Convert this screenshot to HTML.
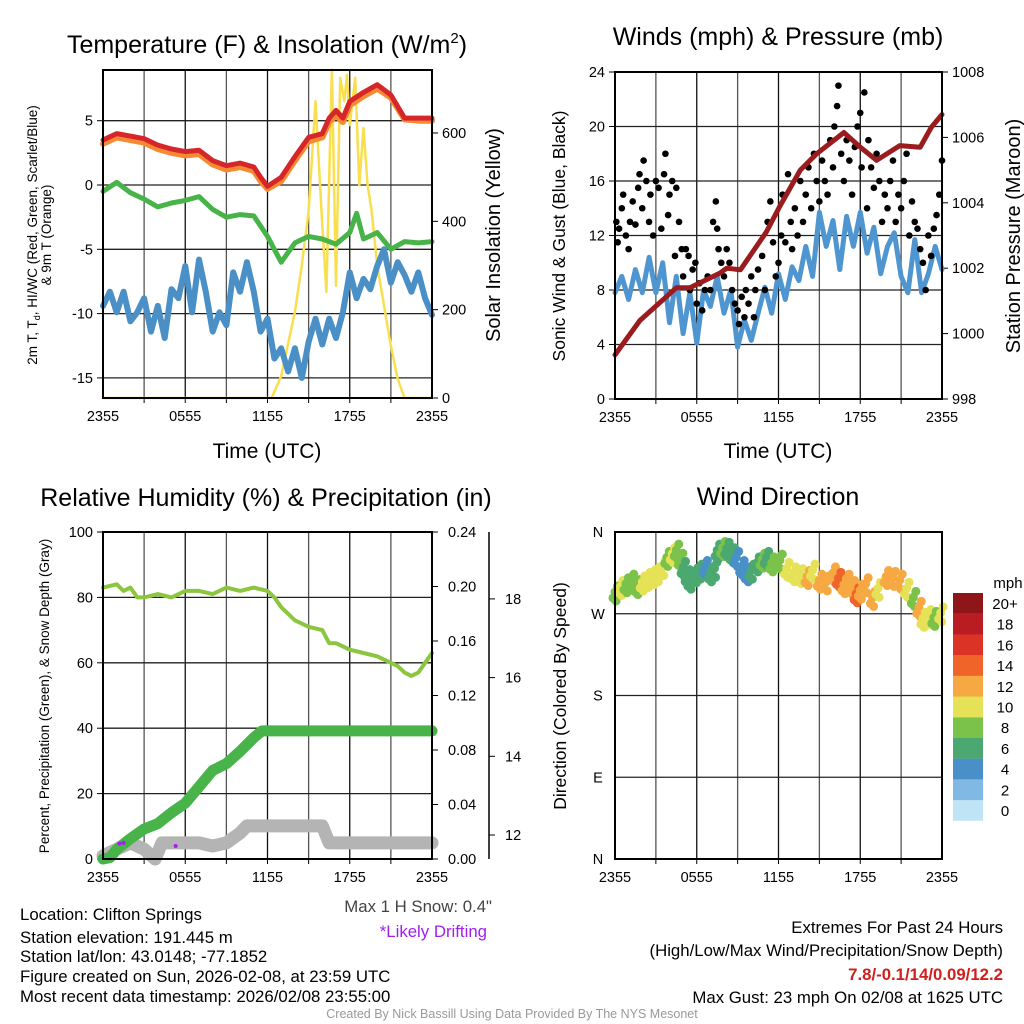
<!DOCTYPE html>
<html><head><meta charset="utf-8"><style>
html,body{margin:0;padding:0;background:#fff}
svg{display:block;font-family:"Liberation Sans",Arial,sans-serif}
</style></head><body>
<svg id="fig" width="1024" height="1024" viewBox="0 0 1024 1024" xmlns="http://www.w3.org/2000/svg">
<rect width="1024" height="1024" fill="#fff"/>
<g id="layer"></g>
<text x="267" y="53" font-size="25" text-anchor="middle">Temperature (F) &amp; Insolation (W/m<tspan font-size="15" dy="-10">2</tspan><tspan dy="10">)</tspan></text>
<text x="778" y="45" font-size="25" text-anchor="middle">Winds (mph) &amp; Pressure (mb)</text>
<text x="266" y="506" font-size="25" text-anchor="middle">Relative Humidity (%) &amp; Precipitation (in)</text>
<text x="778" y="505" font-size="25" text-anchor="middle">Wind Direction</text>
<text x="267" y="458" font-size="21" text-anchor="middle">Time (UTC)</text>
<text x="778" y="458" font-size="21" text-anchor="middle">Time (UTC)</text>
<text transform="translate(37,235) rotate(-90)" font-size="13.5" text-anchor="middle">2m T, T<tspan font-size="9" dy="3">d</tspan><tspan dy="-3">, HI/WC (Red, Green, Scarlet/Blue)</tspan></text>
<text transform="translate(51,235) rotate(-90)" font-size="13.5" text-anchor="middle">&amp; 9m T (Orange)</text>
<text transform="translate(500,235) rotate(-90)" font-size="20" text-anchor="middle">Solar Insolation (Yellow)</text>
<text transform="translate(565,236) rotate(-90)" font-size="17.5" text-anchor="middle">Sonic Wind &amp; Gust (Blue, Black)</text>
<text transform="translate(1020,236) rotate(-90)" font-size="20" text-anchor="middle">Station Pressure (Maroon)</text>
<text transform="translate(49,696) rotate(-90)" font-size="13.5" text-anchor="middle">Percent, Precipitation (Green), &amp; Snow Depth (Gray)</text>
<text transform="translate(566,696) rotate(-90)" font-size="17.5" text-anchor="middle">Direction (Colored By Speed)</text>
<g font-size="16.8">
<text x="20" y="920">Location: Clifton Springs</text>
<text x="20" y="943">Station elevation: 191.445 m</text>
<text x="20" y="962">Station lat/lon: 43.0148; -77.1852</text>
<text x="20" y="982">Figure created on Sun, 2026-02-08, at 23:59 UTC</text>
<text x="20" y="1002">Most recent data timestamp: 2026/02/08 23:55:00</text>
</g>
<text x="492" y="912" font-size="16.8" text-anchor="end" fill="#444">Max 1 H Snow: 0.4"</text>
<text x="487" y="937" font-size="16.8" text-anchor="end" fill="#a020f0">*Likely Drifting</text>
<text x="1003" y="933" font-size="16.8" text-anchor="end">Extremes For Past 24 Hours</text>
<text x="1003" y="956" font-size="16.8" text-anchor="end">(High/Low/Max Wind/Precipitation/Snow Depth)</text>
<text x="1003" y="980" font-size="16.8" text-anchor="end" fill="#d0201e" font-weight="bold">7.8/-0.1/14/0.09/12.2</text>
<text x="1003" y="1003" font-size="16.8" text-anchor="end">Max Gust: 23 mph On 02/08 at 1625 UTC</text>
<text x="512" y="1018" font-size="12.5" text-anchor="middle" fill="#999">Created By Nick Bassill Using Data Provided By The NYS Mesonet</text>
</svg>
<script>
const xTickLabels = ["2355","0555","1155","1755","2355"];
const tempTicks = [5,0,-5,-10,-15];
const solarTicks = [0,200,400,600];
const windTicks = [0,4,8,12,16,20,24];
const presTicks = [998,1000,1002,1004,1006,1008];
const rhTicks = [0,20,40,60,80,100];
const precipTicks = [0.00,0.04,0.08,0.12,0.16,0.20,0.24];
const snowTicks = [12,14,16,18];
const dirTickLabels = ["N","E","S","W","N"];
const speedBins = ["0","2","4","6","8","10","12","14","16","18","20+"];

const tHours = [0,1,2,3,4,5,6,7,8,9,10,11,11.5,12,13,14,15,16,16.5,17,17.5,18,19,20,21,22,23,24];
const tempRed = [3.5,4.0,3.8,3.6,3.1,2.8,2.6,2.7,1.9,1.5,1.7,1.4,0.6,-0.1,0.6,2.2,3.7,4.0,5.2,5.8,5.2,6.5,7.2,7.8,7.0,5.2,5.2,5.2];
const temp9m = [3.2,3.7,3.5,3.3,2.8,2.5,2.3,2.4,1.6,1.2,1.4,1.1,0.3,-0.3,0.3,1.9,3.4,3.7,4.9,5.4,4.9,6.2,6.9,7.5,6.8,5.1,5.0,5.0];
const gHours = [0,1,2,3,4,5,6,7,8,9,10,11,12,13,14,15,16,17,18,18.5,19,20,21,22,23,24];
const dewGreen = [-0.5,0.2,-0.6,-1.1,-1.7,-1.4,-1.2,-0.9,-1.9,-2.5,-2.3,-2.4,-4.0,-6.0,-4.5,-4.0,-4.2,-4.6,-3.7,-2.2,-4.2,-3.7,-5.0,-4.4,-4.5,-4.4];
const bHours = [0,0.5,1,1.5,2,2.5,3,3.5,4,4.5,5,5.5,6,6.5,7,7.5,8,8.5,9,9.5,10,10.5,11,11.5,12,12.5,13,13.5,14,14.5,15,15.5,16,16.5,17,17.5,18,18.5,19,19.5,20,20.5,21,21.5,22,22.5,23,23.5,24];
const windChill = [-9.4,-8.3,-9.9,-8.3,-10.6,-9.9,-8.8,-11.4,-9.4,-11.9,-8.1,-8.8,-6.3,-9.9,-5.8,-8.3,-11.4,-9.9,-10.9,-6.8,-8.3,-6.0,-8.3,-11.4,-10.4,-13.5,-12.7,-14.5,-12.7,-15.0,-12.2,-10.4,-12.4,-10.4,-11.9,-9.9,-6.8,-8.8,-7.3,-8.1,-6.3,-5.0,-7.6,-6.0,-7.0,-8.3,-6.8,-8.8,-10.1];
const sHours = [0,12,12.3,13,14,14.5,15,15.5,16,16.3,16.7,17,17.3,17.6,17.8,18,18.4,18.7,19,19.3,19.6,20,21,21.5,22,24];
const solar = [0,0,0,50,195,300,423,672,390,240,743,254,725,672,732,618,725,482,611,482,423,300,118,43,0,0];

const pHours = [0,1.83,4.5,5.5,7.7,8.2,9.2,11.1,12.1,13.6,14.8,16.8,18,19.2,20.9,22.4,23.2,24];
const pressure = [999.35,1000.4,1001.4,1001.4,1001.85,1002.0,1001.95,1003.1,1003.9,1005.0,1005.5,1006.15,1005.7,1005.3,1005.75,1005.7,1006.3,1006.7];
const sonicWind = [7.8,9.0,7.3,9.5,7.8,10.4,7.8,10.0,5.6,9.0,4.8,7.8,4.1,8.0,6.8,9.0,6.3,8.0,3.8,5.8,4.3,6.3,8.2,6.3,9.2,7.3,9.7,8.7,11.2,9.0,13.7,11.2,13.1,9.5,13.4,11.2,13.7,10.7,12.6,9.2,11.2,12.2,9.0,7.8,11.7,7.8,9.2,11.2,9.5];
const gustH = [0.1,0.2,0.3,0.5,0.6,0.8,1,1.1,1.3,1.5,1.7,1.8,2,2.1,2.3,2.5,2.6,2.8,3,3.2,3.4,3.6,3.7,3.9,4,4.2,4.4,4.5,4.7,4.9,5,5.2,5.4,5.5,5.7,5.9,6,6.2,6.4,6.6,6.8,7,7.2,7.4,7.5,7.6,7.8,8,8.2,8.4,8.6,8.8,9,9.1,9.3,9.5,9.6,9.8,10,10.2,10.3,10.5,10.8,11,11.2,11.4,11.6,11.8,12,12.2,12.3,12.5,12.7,12.9,13,13.2,13.4,13.6,13.8,14,14.2,14.4,14.6,14.8,15,15.2,15.4,15.6,15.8,16,16.1,16.3,16.4,16.6,16.8,17,17.2,17.4,17.6,17.8,18,18.1,18.3,18.5,18.6,18.8,19,19.2,19.4,19.6,19.8,20,20.2,20.4,20.6,20.8,21,21.2,21.4,21.6,21.8,22,22.2,22.4,22.6,22.8,23,23.2,23.4,23.6,23.8,24];
const gustV = [13,11.5,12.5,14,15,12,11,13,14.5,12.8,15.5,16.5,14,17.5,16,13,15,12,16,15.5,12.5,16.5,18,13.5,15,16,10.5,15.5,13,11,9,11,10.5,8,9.5,10,7,8.5,6.5,8,9,8,13,14.5,12.5,11,10,9,11,10,8,7,6.5,5.5,7.5,6,8,7,9,6,8,9.5,10.5,8,13,14.5,11.5,9,10,12,15,11.5,16.5,13,11,14,12,16,13,15,17,14,18,16,14.5,17.5,16,15,19,17,20,21.5,23,18,16,19,17.5,15,18.5,20,21,17,22.5,14,19,17,15.5,18,16,13,15,14,16,17.5,13,15,14,16,18,12,14.5,13,12.5,11,10,8,12,10.5,12.5,13.5,15,17.5];

const rhHours = [0,1,1.5,2,2.5,3,4,5,6,7,8,9,10,11,12,12.5,13,13.5,14,15,16,16.5,17,18,19,20,21,21.5,22,22.5,23,23.5,24];
const rh = [83,84,82,83,80,80,81,80,82,82,81,83,82,83,82,80,77,75,73,71,70,66,66,64,63,62,60,59,57,56,57,60,63];
const prHours = [0,0.5,1,2,3,4,5,6,7,8,9,10,11,11.6,24];
const precip = [0,0.001,0.007,0.015,0.022,0.026,0.034,0.041,0.053,0.065,0.070,0.079,0.089,0.094,0.094];
const sdHours = [0,1,2,3,3.8,4.3,5,6,7,8,9,10,10.5,11,16,16.5,17,24];
const snowDepth = [11.47,11.64,11.80,11.64,11.39,11.80,11.80,11.80,11.80,11.72,11.80,12.05,12.23,12.23,12.23,11.80,11.80,11.80];
const driftH = [1.2,1.5,5.3];
const driftSD = [11.78,11.80,11.72];

const dirH = [0,0.4,0.8,1.2,1.6,2.0,2.4,2.8,3.1,3.5,3.8,4.2,4.5,4.8,5.0,5.3,5.5,5.9,6.2,6.6,7.0,7.3,7.5,7.9,8.2,8.6,8.9,9.3,9.7,10.0,10.4,10.8,11.1,11.5,12.1,12.6,13.1,13.6,14.1,14.5,15.0,15.5,16.0,16.4,16.8,17.0,17.4,17.7,18.0,18.4,18.9,19.3,19.9,20.4,20.9,21.4,21.9,22.3,22.6,23.0,23.4,23.9];
const dirDeg = [294,300,303,307,301,305,309,312,315,322,332,336,340,330,321,312,307,314,318,322,315,320,340,343,342,336,332,322,315,318,326,330,332,326,329,320,315,313,311,318,307,305,315,309,302,307,300,292,296,303,288,298,311,310,307,298,288,277,265,268,266,271];
const dirSpd = [8,9,8,7,8,10,10,9,9,10,8,9,8,7,5,6,6,5,6,4,6,6,6,7,6,5,4,4,4,5,6,7,6,7,8,9,10,10,11,10,12,12,11,13,12,11,12,14,12,11,12,10,11,12,12,10,8,12,10,10,7,10];

const NS = "http://www.w3.org/2000/svg";
const layer = document.getElementById("layer");
function mk(tag, attrs){ const e=document.createElementNS(NS,tag); for(const k in attrs) e.setAttribute(k,attrs[k]); layer.appendChild(e); return e; }
function txt(x,y,s,size,anchor){ const e=mk("text",{x:x,y:y,"font-size":size,"text-anchor":anchor}); e.textContent=s; return e; }
const binColors = ["#bfe4f6","#7fb9e4","#4a90c8","#4aa870","#7bc24a","#e6e257","#f6a842","#f06329","#dc3327","#b91c22","#8e1518"];

const P1={x0:103,x1:432,y0:70,y1:398};
const P2={x0:615,x1:942,y0:72,y1:399};
const P3={x0:103,x1:432,y0:532,y1:859};
const P4={x0:615,x1:942,y0:532,y1:859};
function xs(P){ return h => P.x0 + h*(P.x1-P.x0)/24; }
const xT=xs(P1), xW=xs(P2), xR=xs(P3), xD=xs(P4);
const yTemp = v => 185 - v*12.86;
const ySolar = v => P1.y1 - v*0.4417;
const yWind = v => P2.y1 - v*(P2.y1-P2.y0)/24;
const yPres = v => P2.y1 - (v-998)*(P2.y1-P2.y0)/10;
const yRH = v => P3.y1 - v*(P3.y1-P3.y0)/100;
const yPr = v => P3.y1 - v*(P3.y1-P3.y0)/0.24;
const ySnow = v => 835 - (v-12)*39.35;
const yDir = v => P4.y1 - v*(P4.y1-P4.y0)/360;

function frame(P,name){
  for(let i=1;i<8;i++){ const x=P.x0+i*(P.x1-P.x0)/8;
    const g=mk("line",{x1:x,y1:P.y0,x2:x,y2:P.y1,stroke:i%2?"#555":"#111","stroke-width":1.3});
    
    
    const t=mk("line",{x1:x,y1:P.y1,x2:x,y2:P.y1+5,stroke:"#000","stroke-width":1});
    
    
  }
  for(let i=0;i<5;i++){ const x=P.x0+i*(P.x1-P.x0)/4;
    const l=txt(x,P.y1+23,xTickLabels[i],14.5,"middle");
    
    
  }
}
function hgrid(P,y,name){ const g=mk("line",{x1:P.x0,y1:y,x2:P.x1,y2:y,stroke:"#222","stroke-width":1.3});
    }
function border(P,name){ const r=mk("rect",{x:P.x0,y:P.y0,width:P.x1-P.x0,height:P.y1-P.y0,fill:"none",stroke:"#000","stroke-width":2});
    }
function path(hs,vs,fx,fy,color,w){ let d=""; hs.forEach((h,i)=>{d+=(i?"L":"M")+fx(h).toFixed(1)+","+fy(vs[i]).toFixed(1);});
  return mk("path",{d:d,fill:"none",stroke:color,"stroke-width":w,"stroke-linejoin":"round","stroke-linecap":"round"}); }
function leftTicks(P,ticks,fy,name,fmt){ ticks.forEach(v=>{ const y=fy(v);
  const t=mk("line",{x1:P.x0-6,y1:y,x2:P.x0,y2:y,stroke:"#000","stroke-width":1});
   
  const l=txt(P.x0-10,y+5,fmt?fmt(v):String(v),14.5,"end");
    }); }
function rightTicks(x,ticks,fy,name,fmt,off){ ticks.forEach(v=>{ const y=fy(v);
  const t=mk("line",{x1:x,y1:y,x2:x+6,y2:y,stroke:"#000","stroke-width":1});
   
  const l=txt(x+(off||10),y+5,fmt?fmt(v):String(v),14.5,"start");
    }); }

frame(P1,"temp");
tempTicks.forEach(v=>hgrid(P1,yTemp(v),"temp-hgrid"));
leftTicks(P1,tempTicks,yTemp,"temp-y");
rightTicks(P1.x1,solarTicks,ySolar,"solar-y");
let e;
e=path(sHours,solar,xT,ySolar,"#f9df4e",2.5);


e=path(bHours,windChill,xT,yTemp,"#4a8fc6",6);


e=path(gHours,dewGreen,xT,yTemp,"#48b348",5);


e=path(tHours,temp9m,xT,yTemp,"#f58a33",6);


e=path(tHours,tempRed,xT,yTemp,"#d7262a",5);


border(P1,"temp-plot-frame");

frame(P2,"wind");
windTicks.forEach(v=>hgrid(P2,yWind(v),"wind-hgrid"));
leftTicks(P2,windTicks,yWind,"wind-y");
rightTicks(P2.x1,presTicks,yPres,"pressure-y");
e=path(bHours,sonicWind,xW,yWind,"#4f96d0",5);


gustH.forEach((h,i)=>{ const c=mk("circle",{cx:xW(h),cy:yWind(gustV[i]),r:3.3,fill:"#000"});
  
   });
e=path(pHours,pressure,xW,yPres,"#9b1c1f",5);


border(P2,"wind-plot-frame");

frame(P3,"rh");
rhTicks.slice(1,5).forEach(v=>hgrid(P3,yRH(v),"rh-hgrid"));
leftTicks(P3,rhTicks,yRH,"rh-y");
rightTicks(P3.x1,precipTicks,yPr,"precip-y",v=>v.toFixed(2),16);
e=mk("line",{x1:489,y1:P3.y0,x2:489,y2:P3.y1,stroke:"#000","stroke-width":1.5});


rightTicks(489,snowTicks,ySnow,"snow-y",null,16);
e=path(sdHours,snowDepth,xR,ySnow,"#b4b4b4",13);


e=path(prHours,precip,xR,yPr,"#48b348",11);


e=path(rhHours,rh,xR,yRH,"#8cc63f",4);


driftH.forEach((h,i)=>{ const c=mk("circle",{cx:xR(h),cy:ySnow(driftSD[i]),r:2,fill:"#a020f0"});
  
   });
border(P3,"rh-plot-frame");

frame(P4,"dir");
[90,180,270].forEach(v=>hgrid(P4,yDir(v),"dir-hgrid"));
[0,90,180,270,360].forEach((v,i)=>{ const l=txt(P4.x0-17,yDir(v)+5,dirTickLabels[i],14.5,"middle");
  
   });
dirH.forEach((h,i)=>{ const b=Math.min(10,Math.round(dirSpd[i]/2));
  [[0,0],[0.18,-6],[-0.15,6],[0.08,9]].forEach(o=>{
    const c=mk("circle",{cx:xD(h+o[0]),cy:yDir(dirDeg[i])+o[1],r:4.5,fill:binColors[b]});
    
     }); });
border(P4,"dir-plot-frame");
speedBins.forEach((s,i)=>{ const y=593+(10-i)*20.7;
  const r=mk("rect",{x:953,y:y,width:30,height:20.8,fill:binColors[i]});
  
  
  const l=txt(1005,y+16,s,15,"middle");
  
   });
e=txt(1008,588,"mph",15,"middle");


</script>
</body></html>
